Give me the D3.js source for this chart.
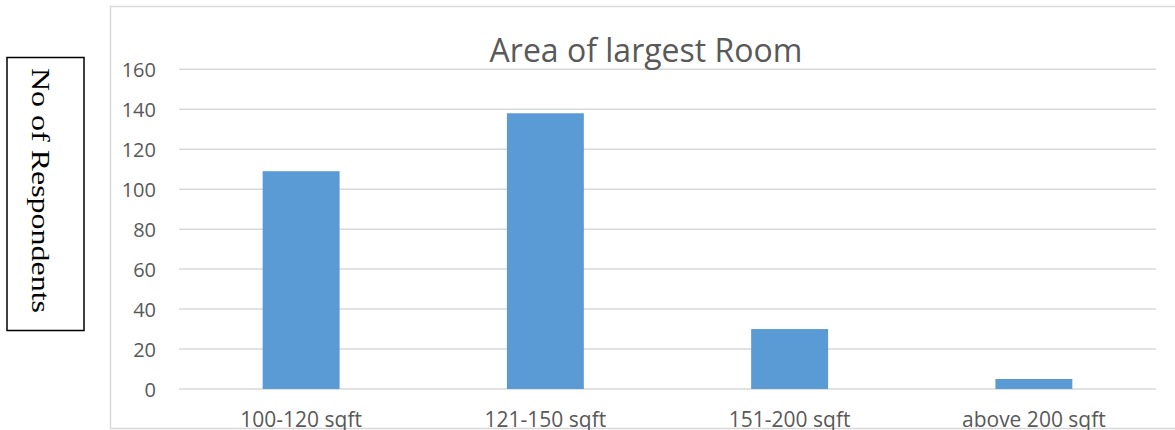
<!DOCTYPE html>
<html>
<head>
<meta charset="utf-8">
<script src="https://cdn.jsdelivr.net/npm/d3@7"></script>
<style>
  html, body { margin: 0; padding: 0; background: #fff; }
  svg { display: block; }
</style>
</head>
<body>
<svg id="chart" width="1175" height="430"></svg>
<script>
const categories = ["100-120 sqft", "121-150 sqft", "151-200 sqft", "above 200 sqft"];
const values = [109, 138, 30, 5];
const yTicks = [0, 20, 40, 60, 80, 100, 120, 140, 160];
const titleText = "Area of largest Room";
const yLabelText = "No of Respondents";

const svg = d3.select("#chart");
const W = 1175, H = 430;
const plot = { left: 179, right: 1156, top: 69.3, bottom: 389 };
const textColor = "#595959";
const gridColor = "#d9d9d9";
const sans = "'Open Sans', sans-serif";

// chart frame
svg.append("rect")
  .attr("x", 110.5).attr("y", 6.5)
  .attr("width", W + 10).attr("height", 422)
  .attr("fill", "none").attr("stroke", gridColor).attr("stroke-width", 1.5);

const x = d3.scaleBand().domain(categories).range([plot.left, plot.right]).paddingInner(0.685).paddingOuter(0.3425);
const y = d3.scaleLinear().domain([0, 160]).range([plot.bottom, plot.top]);

// gridlines
svg.append("g").selectAll("line").data(yTicks).join("line")
  .attr("x1", plot.left).attr("x2", plot.right)
  .attr("y1", d => y(d)).attr("y2", d => y(d))
  .attr("stroke", gridColor).attr("stroke-width", 1.5);

// y axis labels
const yAxis = d3.axisLeft(y).tickValues(yTicks).tickSize(0).tickPadding(0);
const gy = svg.append("g").attr("transform", `translate(156,0)`).call(yAxis);
gy.select(".domain").remove();
gy.selectAll("text").attr("font-family", sans).attr("font-size", 20).attr("fill", textColor).attr("dy", "0.35em");

// bars
svg.append("g").selectAll("rect").data(values).join("rect")
  .attr("x", (d, i) => x(categories[i]))
  .attr("width", x.bandwidth())
  .attr("y", d => y(d))
  .attr("height", d => y(0) - y(d))
  .attr("fill", "#5b9bd5");

// x axis labels
const xAxis = d3.axisBottom(x).tickSize(0).tickPadding(0);
const gx = svg.append("g").attr("transform", `translate(0,427)`).call(xAxis);
gx.select(".domain").remove();
gx.selectAll("text").attr("font-family", sans).attr("font-size", 21).attr("fill", textColor).attr("dy", 0);

// title
svg.append("text")
  .attr("x", 646).attr("y", 62)
  .attr("text-anchor", "middle")
  .attr("font-family", sans).attr("font-size", 32).attr("fill", textColor)
  .text(titleText);

// y label box
svg.append("rect")
  .attr("x", 7).attr("y", 57.5).attr("width", 77).attr("height", 273)
  .attr("fill", "#fff").attr("stroke", "#000").attr("stroke-width", 1.5);
svg.append("text")
  .attr("transform", "translate(32,190.5) rotate(90)")
  .attr("text-anchor", "middle")
  .attr("font-family", "'Liberation Serif', 'Times New Roman', serif")
  .attr("font-size", 25).attr("fill", "#000")
  .attr("textLength", 245).attr("lengthAdjust", "spacingAndGlyphs")
  .text(yLabelText);
</script>
</body>
</html>
